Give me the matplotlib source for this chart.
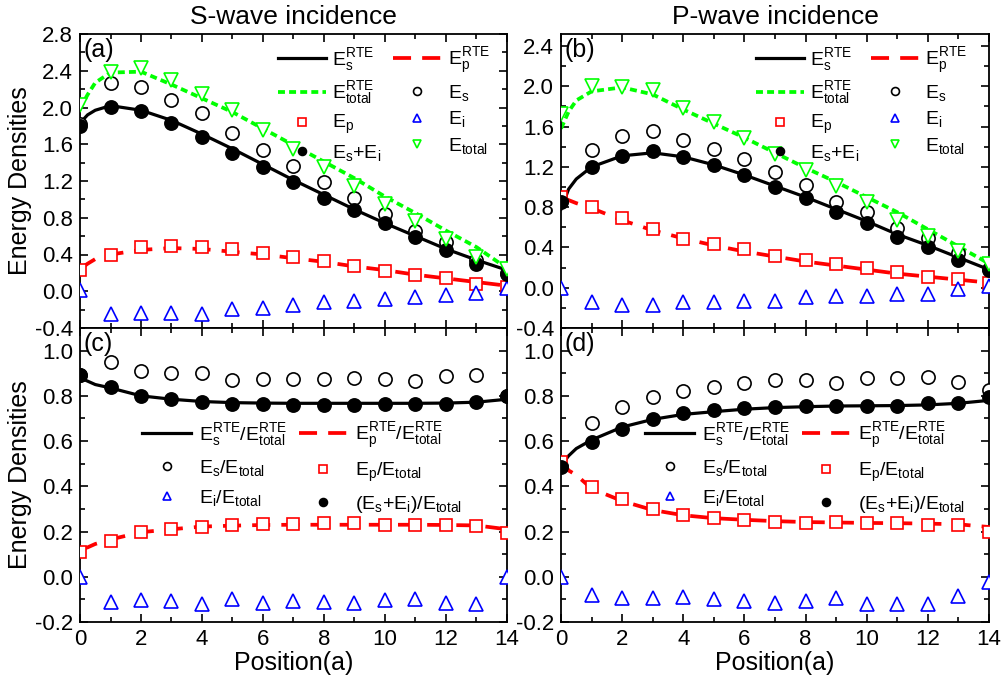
import matplotlib
matplotlib.use("Agg")
import matplotlib.pyplot as plt
from matplotlib.ticker import MultipleLocator, FormatStrFormatter
from matplotlib.lines import Line2D

plt.rcParams['font.family'] = ['Liberation Sans', 'DejaVu Sans']
plt.rcParams['mathtext.fontset'] = 'custom'
plt.rcParams['mathtext.rm'] = 'Liberation Sans'
plt.rcParams['mathtext.it'] = 'Liberation Sans'
plt.rcParams['mathtext.bf'] = 'Liberation Sans:bold'
plt.rcParams['mathtext.sf'] = 'Liberation Sans'
plt.rcParams['mathtext.default'] = 'regular'
plt.rcParams['lines.scale_dashes'] = False

# ---------------- data ----------------
pos = [0, 1, 2, 3, 4, 5, 6, 7, 8, 9, 10, 11, 12, 13, 14]
xc = [0, 0.25, 0.5, 1, 2, 3, 4, 5, 6, 7, 8, 9, 10, 11, 12, 13, 14]

# (a) S-wave incidence, energy densities
a_Es_rte = [1.83, 1.92, 1.97, 2.02, 1.97, 1.86, 1.71, 1.55, 1.38, 1.21, 1.05, 0.89, 0.74, 0.60, 0.46, 0.34, 0.23]
a_Ep_rte = [0.24, 0.30, 0.35, 0.40, 0.45, 0.47, 0.46, 0.43, 0.40, 0.36, 0.32, 0.27, 0.23, 0.18, 0.14, 0.10, 0.06]
a_Et_rte = [1.99, 2.14, 2.27, 2.38, 2.39, 2.25, 2.10, 1.95, 1.77, 1.59, 1.41, 1.23, 1.03, 0.85, 0.66, 0.48, 0.25]
a_Es = [1.82, 2.27, 2.22, 2.08, 1.94, 1.72, 1.54, 1.36, 1.19, 1.01, 0.84, 0.66, 0.54, 0.34, 0.20]
a_Ep = [0.23, 0.39, 0.48, 0.49, 0.48, 0.46, 0.42, 0.37, 0.33, 0.28, 0.22, 0.18, 0.14, 0.08, 0.05]
a_Ei = [0.01, -0.25, -0.24, -0.24, -0.25, -0.19, -0.18, -0.15, -0.12, -0.11, -0.08, -0.06, -0.04, -0.02, 0.03]
a_EsEi = [1.80, 2.01, 1.96, 1.83, 1.68, 1.51, 1.35, 1.19, 1.02, 0.88, 0.74, 0.59, 0.45, 0.30, 0.19]
a_Et = [2.03, 2.39, 2.43, 2.30, 2.15, 1.97, 1.75, 1.55, 1.35, 1.15, 0.95, 0.77, 0.57, 0.37, 0.24]

# (b) P-wave incidence, energy densities
b_Es_rte = [0.78, 0.98, 1.08, 1.20, 1.31, 1.34, 1.30, 1.22, 1.12, 1.01, 0.90, 0.78, 0.66, 0.53, 0.42, 0.30, 0.18]
b_Ep_rte = [0.90, 0.87, 0.84, 0.79, 0.67, 0.57, 0.49, 0.42, 0.36, 0.31, 0.26, 0.22, 0.18, 0.14, 0.11, 0.08, 0.05]
b_Et_rte = [1.58, 1.75, 1.86, 1.95, 1.99, 1.92, 1.77, 1.63, 1.49, 1.34, 1.19, 1.05, 0.90, 0.75, 0.58, 0.41, 0.24]
b_Es = [0.86, 1.37, 1.51, 1.56, 1.47, 1.38, 1.28, 1.15, 1.02, 0.85, 0.75, 0.59, 0.49, 0.34, 0.19]
b_Ep = [0.90, 0.80, 0.69, 0.58, 0.48, 0.43, 0.38, 0.32, 0.28, 0.24, 0.20, 0.16, 0.11, 0.09, 0.05]
b_Ei = [0.00, -0.14, -0.17, -0.17, -0.14, -0.14, -0.13, -0.13, -0.09, -0.08, -0.08, -0.06, -0.06, -0.01, 0.02]
b_EsEi = [0.85, 1.20, 1.31, 1.36, 1.30, 1.22, 1.12, 1.00, 0.89, 0.75, 0.64, 0.50, 0.40, 0.28, 0.18]
b_Et = [1.73, 2.00, 1.99, 1.96, 1.79, 1.65, 1.49, 1.33, 1.17, 1.01, 0.85, 0.67, 0.51, 0.36, 0.24]

# (c) S-wave incidence, ratios
c_Es_rte = [0.88, 0.865, 0.85, 0.835, 0.80, 0.785, 0.775, 0.77, 0.768, 0.767, 0.767, 0.767, 0.767, 0.767, 0.768, 0.772, 0.785]
c_Ep_rte = [0.12, 0.13, 0.145, 0.165, 0.197, 0.21, 0.222, 0.226, 0.229, 0.23, 0.23, 0.23, 0.23, 0.23, 0.229, 0.227, 0.21]
c_Es = [0.89, 0.95, 0.91, 0.90, 0.90, 0.87, 0.876, 0.873, 0.875, 0.879, 0.875, 0.867, 0.886, 0.893, 0.80]
c_Ep = [0.11, 0.16, 0.196, 0.212, 0.219, 0.231, 0.234, 0.234, 0.237, 0.237, 0.231, 0.231, 0.227, 0.224, 0.194]
c_Ei = [0.0, -0.11, -0.104, -0.107, -0.119, -0.099, -0.114, -0.107, -0.11, -0.117, -0.104, -0.097, -0.114, -0.119, 0.0]
c_EsEi = [0.89, 0.84, 0.80, 0.785, 0.775, 0.764, 0.762, 0.76, 0.76, 0.76, 0.762, 0.765, 0.765, 0.772, 0.80]

# (d) P-wave incidence, ratios
d_Es_rte = [0.49, 0.535, 0.567, 0.605, 0.662, 0.696, 0.718, 0.73, 0.741, 0.748, 0.752, 0.755, 0.756, 0.757, 0.76, 0.767, 0.78]
d_Ep_rte = [0.52, 0.47, 0.45, 0.39, 0.335, 0.295, 0.272, 0.259, 0.252, 0.246, 0.242, 0.240, 0.238, 0.237, 0.235, 0.232, 0.22]
d_Es = [0.49, 0.68, 0.75, 0.794, 0.82, 0.839, 0.856, 0.868, 0.868, 0.856, 0.879, 0.879, 0.882, 0.861, 0.824]
d_Ep = [0.508, 0.397, 0.345, 0.298, 0.271, 0.261, 0.249, 0.244, 0.239, 0.241, 0.239, 0.239, 0.227, 0.227, 0.20]
d_Ei = [0.0, -0.08, -0.095, -0.092, -0.089, -0.099, -0.107, -0.114, -0.107, -0.095, -0.119, -0.119, -0.121, -0.084, -0.025]
d_EsEi = [0.486, 0.597, 0.653, 0.698, 0.723, 0.738, 0.745, 0.752, 0.757, 0.755, 0.757, 0.757, 0.768, 0.768, 0.797]

# ---------------- styles ----------------
GREEN = '#00FF00'
RED = '#FF0000'
BLUE = '#0000FF'
LW = 2.3
DASH_RED = (0, (13, 8))
DASH_GREEN = (0, (5, 3))
MS = 9.5
MEW = 1.2
TICK_FS = 16
LAB_FS = 18
LEG_FS = 14

fig = plt.figure(figsize=(10.06, 6.85), dpi=100)
L1, W1 = 80 / 1006, 427 / 1006
L2, W2 = 561 / 1006, 428 / 1006
BT, HT = 1 - 328 / 685, 294 / 685
BB, HB = 1 - 622 / 685, 294 / 685
axa = fig.add_axes([L1, BT, W1, HT])
axb = fig.add_axes([L2, BT, W2, HT])
axc = fig.add_axes([L1, BB, W1, HB])
axd = fig.add_axes([L2, BB, W2, HB])


def style(ax, ylim, ymaj, ymin, xlabels):
    ax.set_xlim(0, 14)
    ax.set_ylim(*ylim)
    ax.xaxis.set_major_locator(MultipleLocator(2))
    ax.xaxis.set_minor_locator(MultipleLocator(1))
    ax.yaxis.set_major_locator(MultipleLocator(ymaj))
    ax.yaxis.set_minor_locator(MultipleLocator(ymin))
    ax.yaxis.set_major_formatter(FormatStrFormatter('%.1f'))
    ax.tick_params(which='both', direction='in', top=True, right=True,
                   labelsize=TICK_FS, width=1.2, pad=5)
    ax.tick_params(which='major', length=6)
    ax.tick_params(which='minor', length=3.5)
    if not xlabels:
        ax.tick_params(labelbottom=False)
    for s in ax.spines.values():
        s.set_linewidth(1.3)


def mk(ax, y, marker, color, filled=False, z=4):
    ms = 8.3 if marker == 's' else MS
    ax.plot(pos, y, ls='none', marker=marker, ms=ms,
            mfc=color if filled else 'white', mec=color, mew=MEW, zorder=z)


def energy_panel(ax, Es_rte, Ep_rte, Et_rte, Es, Ep, Ei, EsEi, Et):
    ax.plot(xc, Es_rte, color='black', lw=LW, zorder=2)
    ax.plot(xc, Ep_rte, color=RED, lw=LW + 0.4, ls=DASH_RED, zorder=2)
    ax.plot(xc, Et_rte, color=GREEN, lw=LW + 0.4, ls=DASH_GREEN, zorder=2)
    mk(ax, Es, 'o', 'black', z=3)
    mk(ax, Ep, 's', RED, z=3)
    mk(ax, Ei, '^', BLUE, z=3)
    mk(ax, EsEi, 'o', 'black', filled=True, z=4)
    mk(ax, Et, 'v', GREEN, z=5)


def ratio_panel(ax, Es_rte, Ep_rte, Es, Ep, Ei, EsEi):
    ax.plot(xc, Es_rte, color='black', lw=LW, zorder=2)
    ax.plot(xc, Ep_rte, color=RED, lw=LW + 0.4, ls=DASH_RED, zorder=2)
    mk(ax, Es, 'o', 'black', z=3)
    mk(ax, Ep, 's', RED, z=3)
    mk(ax, Ei, '^', BLUE, z=3)
    mk(ax, EsEi, 'o', 'black', filled=True, z=4)


energy_panel(axa, a_Es_rte, a_Ep_rte, a_Et_rte, a_Es, a_Ep, a_Ei, a_EsEi, a_Et)
energy_panel(axb, b_Es_rte, b_Ep_rte, b_Et_rte, b_Es, b_Ep, b_Ei, b_EsEi, b_Et)
ratio_panel(axc, c_Es_rte, c_Ep_rte, c_Es, c_Ep, c_Ei, c_EsEi)
ratio_panel(axd, d_Es_rte, d_Ep_rte, d_Es, d_Ep, d_Ei, d_EsEi)

style(axa, (-0.4, 2.8), 0.4, 0.2, False)
style(axb, (-0.4, 2.52), 0.4, 0.2, False)
style(axc, (-0.2, 1.1), 0.2, 0.1, True)
style(axd, (-0.2, 1.1), 0.2, 0.1, True)

for ax in (axc, axd):
    ax.set_xlabel('Position(a)', fontsize=LAB_FS, labelpad=1)
for ax in (axa, axc):
    ax.set_ylabel('Energy Densities', fontsize=LAB_FS, labelpad=2)

axa.set_title('S-wave incidence', fontsize=19, pad=7)
axb.set_title('P-wave incidence', fontsize=19, pad=7)

for ax, lab in zip((axa, axb, axc, axd), ('(a)', '(b)', '(c)', '(d)')):
    ax.text(0.008, 0.985, lab, transform=ax.transAxes, fontsize=18,
            ha='left', va='top')


# ---------------- legends ----------------
def h_line(color, ls, lw):
    return Line2D([], [], color=color, ls=ls, lw=lw)


def h_mk(marker, color, filled=False):
    return Line2D([], [], ls='none', marker=marker, ms=MS, mec=color,
                  mfc=color if filled else 'white', mew=MEW)


energy_handles = [h_line('black', '-', LW), h_line(GREEN, DASH_GREEN, LW + 0.4),
                  h_mk('s', RED), h_mk('o', 'black', True),
                  h_line(RED, DASH_RED, LW + 0.4), h_mk('o', 'black'),
                  h_mk('^', BLUE), h_mk('v', GREEN)]
energy_labels = [r'$E_s^{RTE}$', r'$E_{total}^{RTE}$', r'$E_p$', r'$E_s$+$E_i$',
                 r'$E_p^{RTE}$', r'$E_s$', r'$E_i$', r'$E_{total}$']

for ax, anchor in ((axa, (1.0, 1.02)), (axb, (0.99, 1.02))):
    ax.legend(energy_handles, energy_labels, ncol=2, loc='upper right',
              bbox_to_anchor=anchor, frameon=False, fontsize=LEG_FS,
              markerscale=0.6, handlelength=2.5, handletextpad=0.3,
              columnspacing=0.6, labelspacing=0.35, numpoints=1)

ratio_handles = [h_line('black', '-', LW), h_mk('o', 'black'), h_mk('^', BLUE),
                 h_line(RED, DASH_RED, LW + 0.4), h_mk('s', RED), h_mk('o', 'black', True)]
ratio_labels = [r'$E_s^{RTE}/E_{total}^{RTE}$', r'$E_s/E_{total}$', r'$E_i/E_{total}$',
                r'$E_p^{RTE}/E_{total}^{RTE}$', r'$E_p/E_{total}$', r'$(E_s$+$E_i)/E_{total}$']

for ax, anchor in ((axc, (0.936, 0.743)), (axd, (0.985, 0.743))):
    ax.legend(ratio_handles, ratio_labels, ncol=2, loc='upper right',
              bbox_to_anchor=anchor, frameon=False, fontsize=LEG_FS,
              markerscale=0.6, handlelength=2.5, handletextpad=0.4,
              columnspacing=0.6, labelspacing=0.5, numpoints=1)

fig.savefig('out.png', dpi=100)
